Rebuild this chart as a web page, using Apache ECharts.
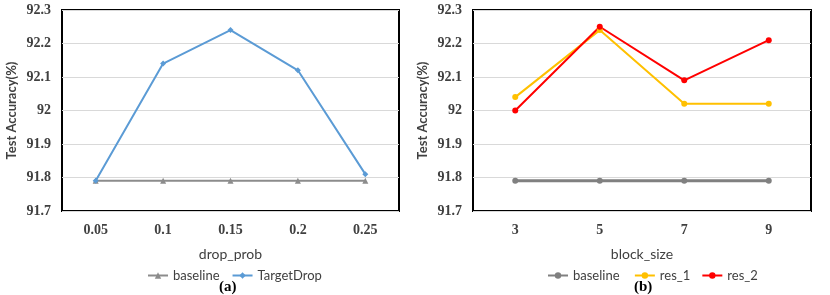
<!DOCTYPE html>
<html><head><meta charset="utf-8">
<script src="https://cdn.jsdelivr.net/npm/echarts@6/dist/echarts.min.js"></script>
<style>html,body{margin:0;padding:0;background:#fff}#c{width:830px;height:295px}</style>
</head><body><div id="c"></div>
<script>
const catsA = ['0.05','0.1','0.15','0.2','0.25'];
const baselineA = [91.79,91.79,91.79,91.79,91.79];
const targetDrop = [91.79,92.14,92.24,92.12,91.81];
const catsB = ['3','5','7','9'];
const baselineB = [91.79,91.79,91.79,91.79];
const res1 = [92.04,92.24,92.02,92.02];
const res2 = [92.00,92.25,92.09,92.21];
const yTicks = ['91.7','91.8','91.9','92','92.1','92.2','92.3'];

const serif = '"Liberation Serif","Times New Roman",serif';
const sans = 'Lato,"Open Sans",sans-serif';
const chart = echarts.init(document.getElementById('c'));
function yAxis(idx){
  return {gridIndex:idx,type:'value',min:91.7,max:92.3,interval:0.1,
    name:'Test Accuracy(%)',nameLocation:'middle',nameGap:44,
    nameTextStyle:{fontFamily:sans,fontWeight:'bold',fontSize:13,color:'#404040'},
    axisLine:{show:false},axisTick:{show:false},
    axisLabel:{fontFamily:serif,fontWeight:'bold',fontSize:14,color:'#404040',margin:11,
      formatter:v=>{const s=(Math.round(v*10)/10).toString();return yTicks.includes(s)?s:'';}},
    splitLine:{lineStyle:{color:'#d9d9d9',width:1}}};
}
function xAxis(idx,cats,name){
  return {gridIndex:idx,type:'category',data:cats,boundaryGap:true,
    name:name,nameLocation:'middle',nameGap:36,
    nameTextStyle:{fontFamily:sans,fontSize:14,color:'#404040'},
    axisLine:{show:false},axisTick:{show:false},
    axisLabel:{fontFamily:serif,fontWeight:'bold',fontSize:14,color:'#404040',margin:12}};
}
chart.setOption({
  animation:false,
  grid:[
    {left:62,right:431,top:10,height:201,show:true,borderColor:'#000',borderWidth:2},
    {left:473,right:19,top:10,height:201,show:true,borderColor:'#000',borderWidth:2}
  ],
  xAxis:[xAxis(0,catsA,'drop_prob'),xAxis(1,catsB,'block_size')],
  yAxis:[yAxis(0),yAxis(1)],
  legend:[
    {data:['baseline','TargetDrop'],top:264,left:142,itemWidth:20,itemHeight:8,itemGap:12,
     textStyle:{fontFamily:sans,fontSize:13,color:'#404040'}},
    {data:['baseline ','res_1','res_2'],top:264,left:542,itemWidth:20,itemHeight:8,itemGap:11,
     textStyle:{fontFamily:sans,fontSize:13,color:'#404040'}}
  ],
  graphic:[
    {type:'text',left:219,top:280,style:{text:'(a)',font:'bold 15px '+serif,fill:'#000'}},
    {type:'text',left:634,top:280,style:{text:'(b)',font:'bold 15px '+serif,fill:'#000'}}
  ],
  series:[
    {name:'baseline',type:'line',xAxisIndex:0,yAxisIndex:0,data:baselineA,
     symbol:'triangle',symbolSize:6,lineStyle:{color:'#8c8c8c',width:2},itemStyle:{color:'#8c8c8c'}},
    {name:'TargetDrop',type:'line',xAxisIndex:0,yAxisIndex:0,data:targetDrop,
     symbol:'diamond',symbolSize:6,lineStyle:{color:'#5B9BD5',width:2},itemStyle:{color:'#5B9BD5'}},
    {name:'baseline ',type:'line',xAxisIndex:1,yAxisIndex:1,data:baselineB,
     symbol:'circle',symbolSize:6,lineStyle:{color:'#808080',width:3},itemStyle:{color:'#808080'}},
    {name:'res_1',type:'line',xAxisIndex:1,yAxisIndex:1,data:res1,
     symbol:'circle',symbolSize:6,lineStyle:{color:'#FFC000',width:2},itemStyle:{color:'#FFC000'}},
    {name:'res_2',type:'line',xAxisIndex:1,yAxisIndex:1,data:res2,
     symbol:'circle',symbolSize:6,lineStyle:{color:'#FF0000',width:2},itemStyle:{color:'#FF0000'}}
  ]
});
</script></body></html>
